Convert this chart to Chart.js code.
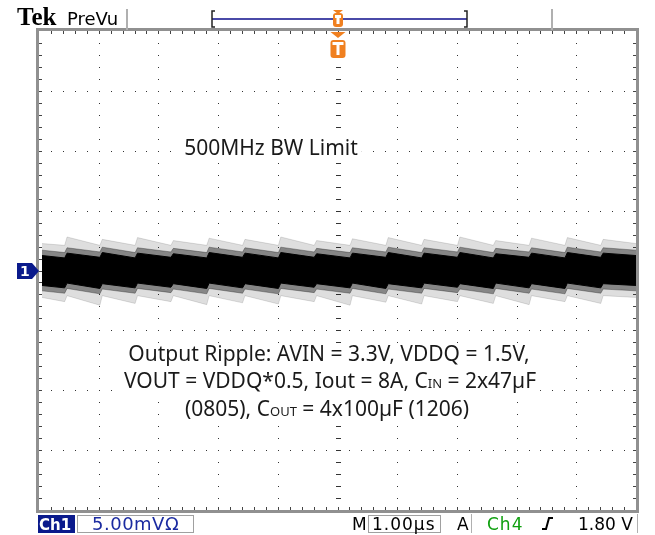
<!DOCTYPE html>
<html>
<head>
<meta charset="utf-8">
<script src="https://cdn.jsdelivr.net/npm/chart.js@4.4.1/dist/chart.umd.min.js"></script>
<style>
  html, body { margin: 0; padding: 0; background: #fff; }
  canvas { display: block; }
</style>
</head>
<body>
<canvas id="scope" width="655" height="535"></canvas>
<script>
// time axis in divisions (1 div = 1.00 us), 10 divisions across
const timeDiv = [0.05, 0.43, 0.47, 1.02, 1.06, 1.61, 1.65, 2.21, 2.25, 2.81, 2.85, 3.41, 3.45,
  4.01, 4.05, 4.61, 4.65, 5.21, 5.25, 5.81, 5.85, 6.41, 6.45, 7.01, 7.05, 7.61, 7.65,
  8.21, 8.25, 8.81, 8.85, 9.41, 9.45, 10.0];

// dense core of the ripple trace (divisions, 5 mV/div)
const coreTop = [0.25, 0.21, 0.29, 0.22, 0.30, 0.21, 0.29, 0.22, 0.28, 0.21, 0.30, 0.22, 0.29,
  0.21, 0.30, 0.22, 0.28, 0.21, 0.29, 0.22, 0.30, 0.21, 0.29, 0.22, 0.30, 0.21, 0.28,
  0.22, 0.29, 0.21, 0.30, 0.22, 0.29, 0.25];
const coreBottom = [-0.25, -0.29, -0.21, -0.30, -0.22, -0.29, -0.21, -0.28, -0.22, -0.30, -0.21, -0.29, -0.22,
  -0.30, -0.21, -0.28, -0.22, -0.29, -0.21, -0.30, -0.22, -0.29, -0.21, -0.28, -0.22, -0.30, -0.21,
  -0.29, -0.22, -0.30, -0.21, -0.29, -0.22, -0.25];

// medium-density noise just outside the core
const hazeTop = [0.34, 0.30, 0.38, 0.31, 0.39, 0.30, 0.38, 0.31, 0.37, 0.30, 0.39, 0.31, 0.38,
  0.30, 0.39, 0.31, 0.37, 0.30, 0.38, 0.31, 0.39, 0.30, 0.38, 0.31, 0.39, 0.30, 0.37,
  0.31, 0.38, 0.30, 0.39, 0.31, 0.38, 0.34];
const hazeBottom = [-0.34, -0.38, -0.30, -0.39, -0.31, -0.38, -0.30, -0.37, -0.31, -0.39, -0.30, -0.38, -0.31,
  -0.39, -0.30, -0.37, -0.31, -0.38, -0.30, -0.39, -0.31, -0.38, -0.30, -0.37, -0.31, -0.39, -0.30,
  -0.38, -0.31, -0.39, -0.30, -0.38, -0.31, -0.34];

// sparse outliers (spikes at the switching edges)
const fuzzTop = [0.45, 0.42, 0.56, 0.42, 0.52, 0.42, 0.55, 0.42, 0.50, 0.42, 0.54, 0.42, 0.52,
  0.42, 0.56, 0.42, 0.50, 0.42, 0.53, 0.42, 0.55, 0.42, 0.52, 0.42, 0.56, 0.42, 0.50,
  0.42, 0.54, 0.42, 0.55, 0.42, 0.52, 0.45];
const fuzzBottom = [-0.45, -0.52, -0.42, -0.58, -0.42, -0.55, -0.42, -0.52, -0.42, -0.57, -0.42, -0.54, -0.42,
  -0.56, -0.42, -0.52, -0.42, -0.58, -0.42, -0.53, -0.42, -0.56, -0.42, -0.52, -0.42, -0.55, -0.42,
  -0.57, -0.42, -0.52, -0.42, -0.55, -0.42, -0.45];

const noteTitle = '500MHz BW Limit';
const noteLines = [
  [['Output Ripple: AVIN = 3.3V, VDDQ = 1.5V,', 0]],
  [['VOUT = VDDQ*0.5, Iout = 8A, C', 0], ['IN', 1], [' = 2x47\u00b5F', 0]],
  [['(0805), C', 0], ['OUT', 1], [' = 4x100\u00b5F (1206)', 0]]
];

const pts = (ys) => timeDiv.map((t, i) => ({ x: t, y: ys[i] }));

const BIG = '21px "Noto Sans"';
const SMALL = '13px "Noto Sans"';
const UI = '17px "DejaVu Sans"';

function richLine(ctx, segs, cx, y) {
  let w = 0;
  segs.forEach(([s, small]) => { ctx.font = small ? SMALL : BIG; w += ctx.measureText(s).width; });
  let x = cx - w / 2;
  ctx.fillStyle = '#fff';
  ctx.fillRect(x - 4, y - 18, w + 8, 24);
  ctx.fillStyle = '#1a1a1a';
  segs.forEach(([s, small]) => {
    ctx.font = small ? SMALL : BIG;
    ctx.fillText(s, x, y);
    x += ctx.measureText(s).width;
  });
}

function tMarker(ctx, cx, triTop, triH, bodyTop, bodyH, w) {
  ctx.fillStyle = '#f08020';
  ctx.beginPath();
  ctx.moveTo(cx - w / 2, triTop);
  ctx.lineTo(cx + w / 2, triTop);
  ctx.lineTo(cx, triTop + triH);
  ctx.fill();
  ctx.beginPath();
  ctx.roundRect(cx - w / 2, bodyTop, w, bodyH, 3);
  ctx.fill();
  ctx.fillStyle = '#fff';
  ctx.fillRect(cx - w / 2 + 2, bodyTop + 2, w - 4, 3);
  ctx.fillRect(cx - 1.5, bodyTop + 2, 3, bodyH - 5);
}

const scopeDecor = {
  id: 'scopeDecor',
  beforeDatasetsDraw(chart) {
    const { ctx, chartArea: a, scales: { x, y } } = chart;
    ctx.save();
    ctx.fillStyle = '#333';
    for (let i = 1; i < 10; i++) {
      const px = Math.round(x.getPixelForValue(i));
      for (let j = 1; j < 40; j++) {
        const py = Math.round(y.getPixelForValue(-4 + j * 0.2));
        ctx.fillRect(px, py, 1, 1);
        if (i === 5) ctx.fillRect(px - 2, py, 5, 1);
      }
    }
    for (let j = -3; j <= 3; j++) {
      const py = Math.round(y.getPixelForValue(j));
      for (let i = 1; i < 50; i++) {
        const px = Math.round(x.getPixelForValue(i * 0.2));
        ctx.fillRect(px, py, 1, 1);
        if (j === 0) ctx.fillRect(px, py - 2, 1, 5);
      }
    }
    // frame with edge ticks
    ctx.strokeStyle = '#909090';
    ctx.lineWidth = 3;
    ctx.strokeRect(a.left - 1.5, a.top - 1.5, a.width + 3, a.height + 3);
    ctx.fillStyle = '#444';
    for (let i = 1; i < 50; i++) {
      const px = Math.round(x.getPixelForValue(i * 0.2));
      ctx.fillRect(px, a.top, 1, 3);
      ctx.fillRect(px, a.bottom - 3, 1, 3);
    }
    for (let j = 1; j < 40; j++) {
      const py = Math.round(y.getPixelForValue(-4 + j * 0.2));
      ctx.fillRect(a.left, py, 3, 1);
      ctx.fillRect(a.right - 3, py, 3, 1);
    }
    ctx.restore();
  },
  afterDraw(chart) {
    const { ctx, scales: { y } } = chart;
    ctx.save();
    ctx.textBaseline = 'alphabetic';

    // annotations inside the graticule
    richLine(ctx, [[noteTitle, 0]], 271, 155);
    richLine(ctx, noteLines[0], 329, 361);
    richLine(ctx, noteLines[1], 330, 388);
    richLine(ctx, noteLines[2], 327, 416);

    // header
    ctx.fillStyle = '#000';
    ctx.font = 'bold 25px "Liberation Serif"';
    ctx.fillText('Tek', 17, 25);
    ctx.font = '18px "DejaVu Sans"';
    ctx.fillText('PreVu', 67, 25);
    ctx.fillStyle = '#b0b0b0';
    ctx.fillRect(126, 9, 2, 21);
    ctx.fillRect(551, 9, 2, 21);

    // record bracket
    ctx.strokeStyle = '#4a4aa8';
    ctx.lineWidth = 2;
    ctx.beginPath();
    ctx.moveTo(212, 19); ctx.lineTo(467, 19);
    ctx.stroke();
    ctx.strokeStyle = '#222';
    ctx.lineWidth = 1.5;
    ctx.beginPath();
    ctx.moveTo(215, 11); ctx.lineTo(212, 11); ctx.lineTo(212, 27); ctx.lineTo(215, 27);
    ctx.moveTo(464, 11); ctx.lineTo(467, 11); ctx.lineTo(467, 27); ctx.lineTo(464, 27);
    ctx.stroke();

    tMarker(ctx, 338, 10, 4, 13, 14, 10);
    tMarker(ctx, 338, 32, 6, 40, 18, 15);

    // channel marker
    const cy = Math.round(y.getPixelForValue(0));
    ctx.fillStyle = '#0a1a8c';
    ctx.beginPath();
    ctx.moveTo(17, cy - 8); ctx.lineTo(32, cy - 8); ctx.lineTo(39, cy);
    ctx.lineTo(32, cy + 8); ctx.lineTo(17, cy + 8);
    ctx.fill();
    ctx.fillStyle = '#fff';
    ctx.font = 'bold 14px "DejaVu Sans"';
    ctx.fillText('1', 20, cy + 5);

    // status bar
    ctx.fillStyle = '#0a1a8c';
    ctx.fillRect(38, 515, 37, 18);
    ctx.fillStyle = '#fff';
    ctx.font = 'bold 15px "DejaVu Sans"';
    ctx.fillText('Ch1', 39, 530);
    ctx.strokeStyle = '#a0a0a0';
    ctx.lineWidth = 1;
    ctx.strokeRect(77.5, 515.5, 116, 17);
    ctx.strokeRect(368.5, 515.5, 72, 17);
    ctx.fillStyle = '#b0b0b0';
    ctx.fillRect(471, 514, 1, 19);
    ctx.fillRect(637, 514, 1, 19);

    ctx.font = '18px "DejaVu Sans"';
    ctx.fillStyle = '#1a2aa0';
    ctx.letterSpacing = '0.5px';
    ctx.fillText('5.00mV\u03a9', 92, 530);
    ctx.fillStyle = '#000';
    ctx.font = UI;
    ctx.letterSpacing = '0px';
    ctx.fillText('M', 352, 530);
    ctx.letterSpacing = '1px';
    ctx.fillText('1.00\u00b5s', 372, 530);
    ctx.fillText('A', 457, 530);
    ctx.fillStyle = '#10a010';
    ctx.fillText('Ch4', 487, 530);
    ctx.fillStyle = '#000';
    ctx.letterSpacing = '0px';
    ctx.fillText('1.80 V', 578, 530);
    ctx.strokeStyle = '#000';
    ctx.lineWidth = 2;
    ctx.beginPath();
    ctx.moveTo(542, 529); ctx.lineTo(546, 529); ctx.lineTo(549, 518); ctx.lineTo(553, 518);
    ctx.stroke();
    ctx.restore();
  }
};

new Chart(document.getElementById('scope'), {
  type: 'line',
  data: {
    datasets: [
      { data: pts(fuzzTop), borderColor: 'rgba(0,0,0,0.12)', borderWidth: 1, fill: '+1', backgroundColor: 'rgba(0,0,0,0.13)' },
      { data: pts(fuzzBottom), borderColor: 'rgba(0,0,0,0.12)', borderWidth: 1, fill: false },
      { data: pts(hazeTop), borderColor: 'rgba(0,0,0,0.3)', borderWidth: 1, fill: '+1', backgroundColor: 'rgba(0,0,0,0.4)' },
      { data: pts(hazeBottom), borderColor: 'rgba(0,0,0,0.3)', borderWidth: 1, fill: false },
      { data: pts(coreTop), borderColor: '#000', borderWidth: 1, fill: '+1', backgroundColor: '#000' },
      { data: pts(coreBottom), borderColor: '#000', borderWidth: 1, fill: false }
    ]
  },
  options: {
    responsive: false,
    animation: false,
    layout: { padding: { left: 39, top: 31, right: 19, bottom: 25 } },
    plugins: { legend: { display: false }, tooltip: { enabled: false } },
    elements: { point: { radius: 0 }, line: { tension: 0 } },
    scales: {
      x: { type: 'linear', min: 0, max: 10, display: false },
      y: { type: 'linear', min: -4, max: 4, display: false }
    }
  },
  plugins: [scopeDecor]
});
</script>
</body>
</html>
